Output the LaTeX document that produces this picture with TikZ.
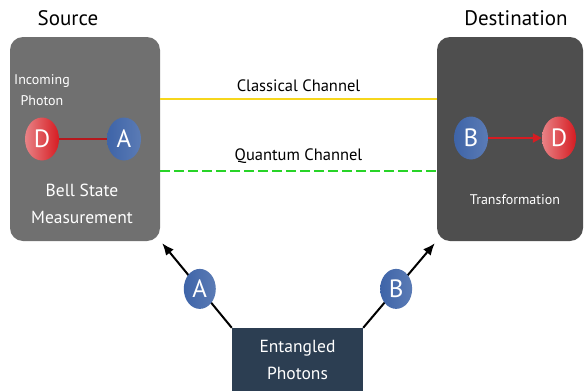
\documentclass[tikz,border=0pt]{standalone}
\usepackage{fontspec}
\setmainfont{PT Sans}
\usetikzlibrary{arrows.meta,shapes.geometric}
\definecolor{srcgray}{RGB}{112,112,112}
\definecolor{dstgray}{RGB}{78,78,78}
\definecolor{navy}{RGB}{44,62,82}
\definecolor{qred}{RGB}{214,28,34}
\definecolor{qblue}{RGB}{62,100,168}
\definecolor{cyellow}{RGB}{246,214,28}
\definecolor{qgreen}{RGB}{40,212,40}

\begin{document}
\begin{tikzpicture}[x=1pt,y=-1pt,
    box/.style={rounded corners=13pt, inner sep=0pt},
    redball/.style={ellipse, minimum width=34pt, minimum height=43pt, inner sep=0pt,
      left color=qred!55!white, right color=qred, text=white,
      font=\fontsize{25}{25}\selectfont},
    blueball/.style={ellipse, minimum width=34pt, minimum height=43pt, inner sep=0pt,
      left color=qblue, right color=qblue!85!white, text=white, font=\fontsize{25}{25}\selectfont},
    lbl/.style={text=white, align=center, font=\fontsize{16}{20}\selectfont},
    title/.style={font=\fontsize{21}{21}\selectfont}]
        \useasboundingbox (0,0) rectangle (584,391);
        \fill[white] (0,0) rectangle (584,391);

        % the two ends
        \node[box, fill=srcgray, minimum width=150pt, minimum height=204pt] (src) at (85,139) {};
        \node[box, fill=dstgray, minimum width=146pt, minimum height=204pt] (dst) at (510,139) {};
        \node[title] (srctitle) at (68,18) {Source};
        \node[title] (dsttitle) at (516,18) {Destination};

        % source side
        \node[lbl, font=\fontsize{14}{21}\selectfont] (incoming) at (42,90) {Incoming\\Photon};
        \node[redball] (srcD) at (42,139) {D};
        \node[blueball] (srcA) at (124,139) {A};
        \draw[qred!85!black, line width=2pt] (srcD) -- (srcA);
        \node[lbl, font=\fontsize{17.5}{27}\selectfont] (bsm) at (82,204) {Bell State\\Measurement};

        % destination side
        \node[blueball] (dstB) at (471,138) {B};
        \node[redball] (dstD) at (559,138) {D};
        \draw[qred, line width=2pt, -{Triangle[length=9pt,width=9pt]}] (dstB) -- (dstD);
        \node[lbl, font=\fontsize{14}{14}\selectfont] (transf) at (515,200) {Transformation};

        % channels
        \draw[cyellow, line width=2pt] ([yshift=40pt]src.east) -- ([yshift=40pt]dst.west)
            node[midway, above=3pt, text=black, font=\fontsize{16.5}{16.5}\selectfont] (classical) {Classical Channel};
        \draw[qgreen, line width=2pt, dash pattern=on 10pt off 4pt] ([yshift=-32pt]src.east) -- ([yshift=-32pt]dst.west)
            node[midway, above=3pt, text=black, font=\fontsize{16.5}{16.5}\selectfont] (quantum) {Quantum Channel};

        % entangled pair
        \node[fill=navy, minimum width=131pt, minimum height=63pt, inner sep=0pt, lbl,
              font=\fontsize{17.5}{27}\selectfont] (ent) at (297.5,359.5) {Entangled\\Photons};
        \draw[line width=2pt, -{Latex[length=12pt,width=10pt]}] (ent.north west) -- ([shift={(2pt,-2pt)}]src.south east)
            node[pos=0.46, blueball, minimum width=32pt, minimum height=40pt] (phA) {A};
        \draw[line width=2pt, -{Latex[length=12pt,width=10pt]}] (ent.north east) -- ([shift={(-2pt,-2pt)}]dst.south west)
            node[pos=0.46, blueball, minimum width=32pt, minimum height=40pt] (phB) {B};
\end{tikzpicture}
\end{document}
